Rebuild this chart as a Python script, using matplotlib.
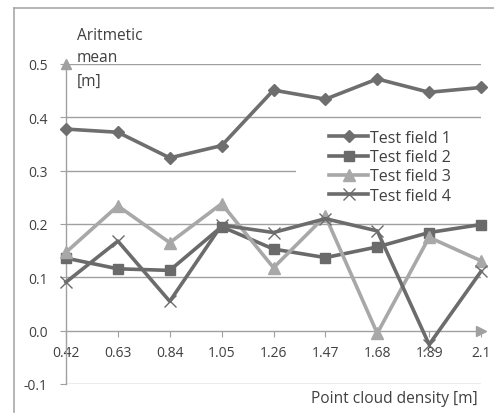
import matplotlib
matplotlib.use("Agg")
import matplotlib.pyplot as plt
from matplotlib.patches import Rectangle
from matplotlib.lines import Line2D

categories = ["0.42", "0.63", "0.84", "1.05", "1.26", "1.47", "1.68", "1.89", "2.1"]
field1 = [0.378, 0.372, 0.324, 0.347, 0.451, 0.434, 0.472, 0.447, 0.456]
field2 = [0.136, 0.116, 0.113, 0.195, 0.153, 0.137, 0.157, 0.184, 0.199]
field3 = [0.147, 0.234, 0.165, 0.238, 0.118, 0.215, -0.005, 0.175, 0.131]
field4 = [0.091, 0.168, 0.055, 0.198, 0.184, 0.210, 0.187, -0.026, 0.111]
series_names = ["Test field 1", "Test field 2", "Test field 3", "Test field 4"]
yticks = [-0.1, 0.0, 0.1, 0.2, 0.3, 0.4, 0.5]

W, H = 494, 414
plt.rcParams['font.family'] = ['Open Sans', 'DejaVu Sans']
fig = plt.figure(figsize=(W / 100, H / 100), dpi=100)

def fx(px):
    return px / W

def fy(py):
    return 1 - py / H

ax = fig.add_axes([fx(66), fy(385), fx(481) - fx(66), fy(65) - fy(385)])
x = list(range(len(categories)))
ax.set_xlim(0, len(categories) - 1)
ax.set_ylim(-0.1, 0.5)

grid_c = "#a0a0a0"
text_c = "#404040"

for s in ['top', 'right']:
    ax.spines[s].set_visible(False)
ax.spines['bottom'].set_position(('data', 0))
ax.spines['bottom'].set_color(grid_c)
ax.spines['left'].set_color(grid_c)
ax.spines['bottom'].set_linewidth(1.0)
ax.spines['left'].set_linewidth(1.0)

ax.set_yticks(yticks)
ax.set_yticklabels([f"{v:.1f}" for v in yticks])
ax.set_xticks(x)
ax.set_xticklabels(categories)
ax.tick_params(axis='y', direction='out', length=4.3, color=grid_c, pad=9,
               labelsize=10, labelcolor=text_c)
ax.tick_params(axis='x', direction='out', length=4.3, color=grid_c, pad=6,
               labelsize=10, labelcolor=text_c)

for v in yticks:
    if v != 0.0:
        ax.axhline(v, color=grid_c, lw=1.0, zorder=0.5)

# axis arrowheads
ax.plot([0], [0.5], marker='^', color=grid_c, markersize=7, clip_on=False, zorder=2)
ax.plot([len(categories) - 1], [0], marker='>', color=grid_c, markersize=7,
        clip_on=False, zorder=2)

# white legend background
ax.add_patch(Rectangle((fx(296), fy(207)), fx(488) - fx(296), fy(126) - fy(207),
                       transform=fig.transFigure, facecolor='white',
                       edgecolor='none', zorder=1, clip_on=False))

styles = [
    dict(color="#6e6e6e", marker='D', markersize=6.5),
    dict(color="#6a6a6a", marker='s', markersize=7.5),
    dict(color="#a8a8a8", marker='^', markersize=8.5),
    dict(color="#6c6c6c", marker='x', markersize=8, markeredgewidth=1.0),
]
data = [field1, field2, field3, field4]
handles = []
for d, st, name in zip(data, styles, series_names):
    h, = ax.plot(x, d, lw=2.6, label=name, clip_on=False, zorder=3, **st)
    handles.append(h)

leg = ax.legend(handles=handles, loc='upper left',
                bbox_to_anchor=(fx(329), fy(131)), bbox_transform=fig.transFigure,
                frameon=False, fontsize=11.5, borderpad=0, borderaxespad=0,
                handlelength=2.45, handletextpad=0.12, labelspacing=0.2)
for t in leg.get_texts():
    t.set_color(text_c)

# axis titles
fs_title = 11.2
fig.text(fx(77), fy(36), "Aritmetic", fontsize=fs_title, color=text_c, va='center', ha='left')
fig.text(fx(77), fy(58), "mean", fontsize=fs_title, color=text_c, va='center', ha='left')
fig.text(fx(77), fy(82), "[m]", fontsize=fs_title, color=text_c, va='center', ha='left')
fig.text(fx(478), fy(399), "Point cloud density [m]", fontsize=fs_title, color=text_c,
         va='center', ha='right')

# outer frame
frame_c = "#a8a8a8"
fig.add_artist(Line2D([fx(14), fx(14)], [fy(9), fy(413)], color=frame_c, lw=1.2))
fig.add_artist(Line2D([fx(14), fx(494)], [fy(9), fy(9)], color=frame_c, lw=1.2))

fig.savefig("out.png", dpi=100)
